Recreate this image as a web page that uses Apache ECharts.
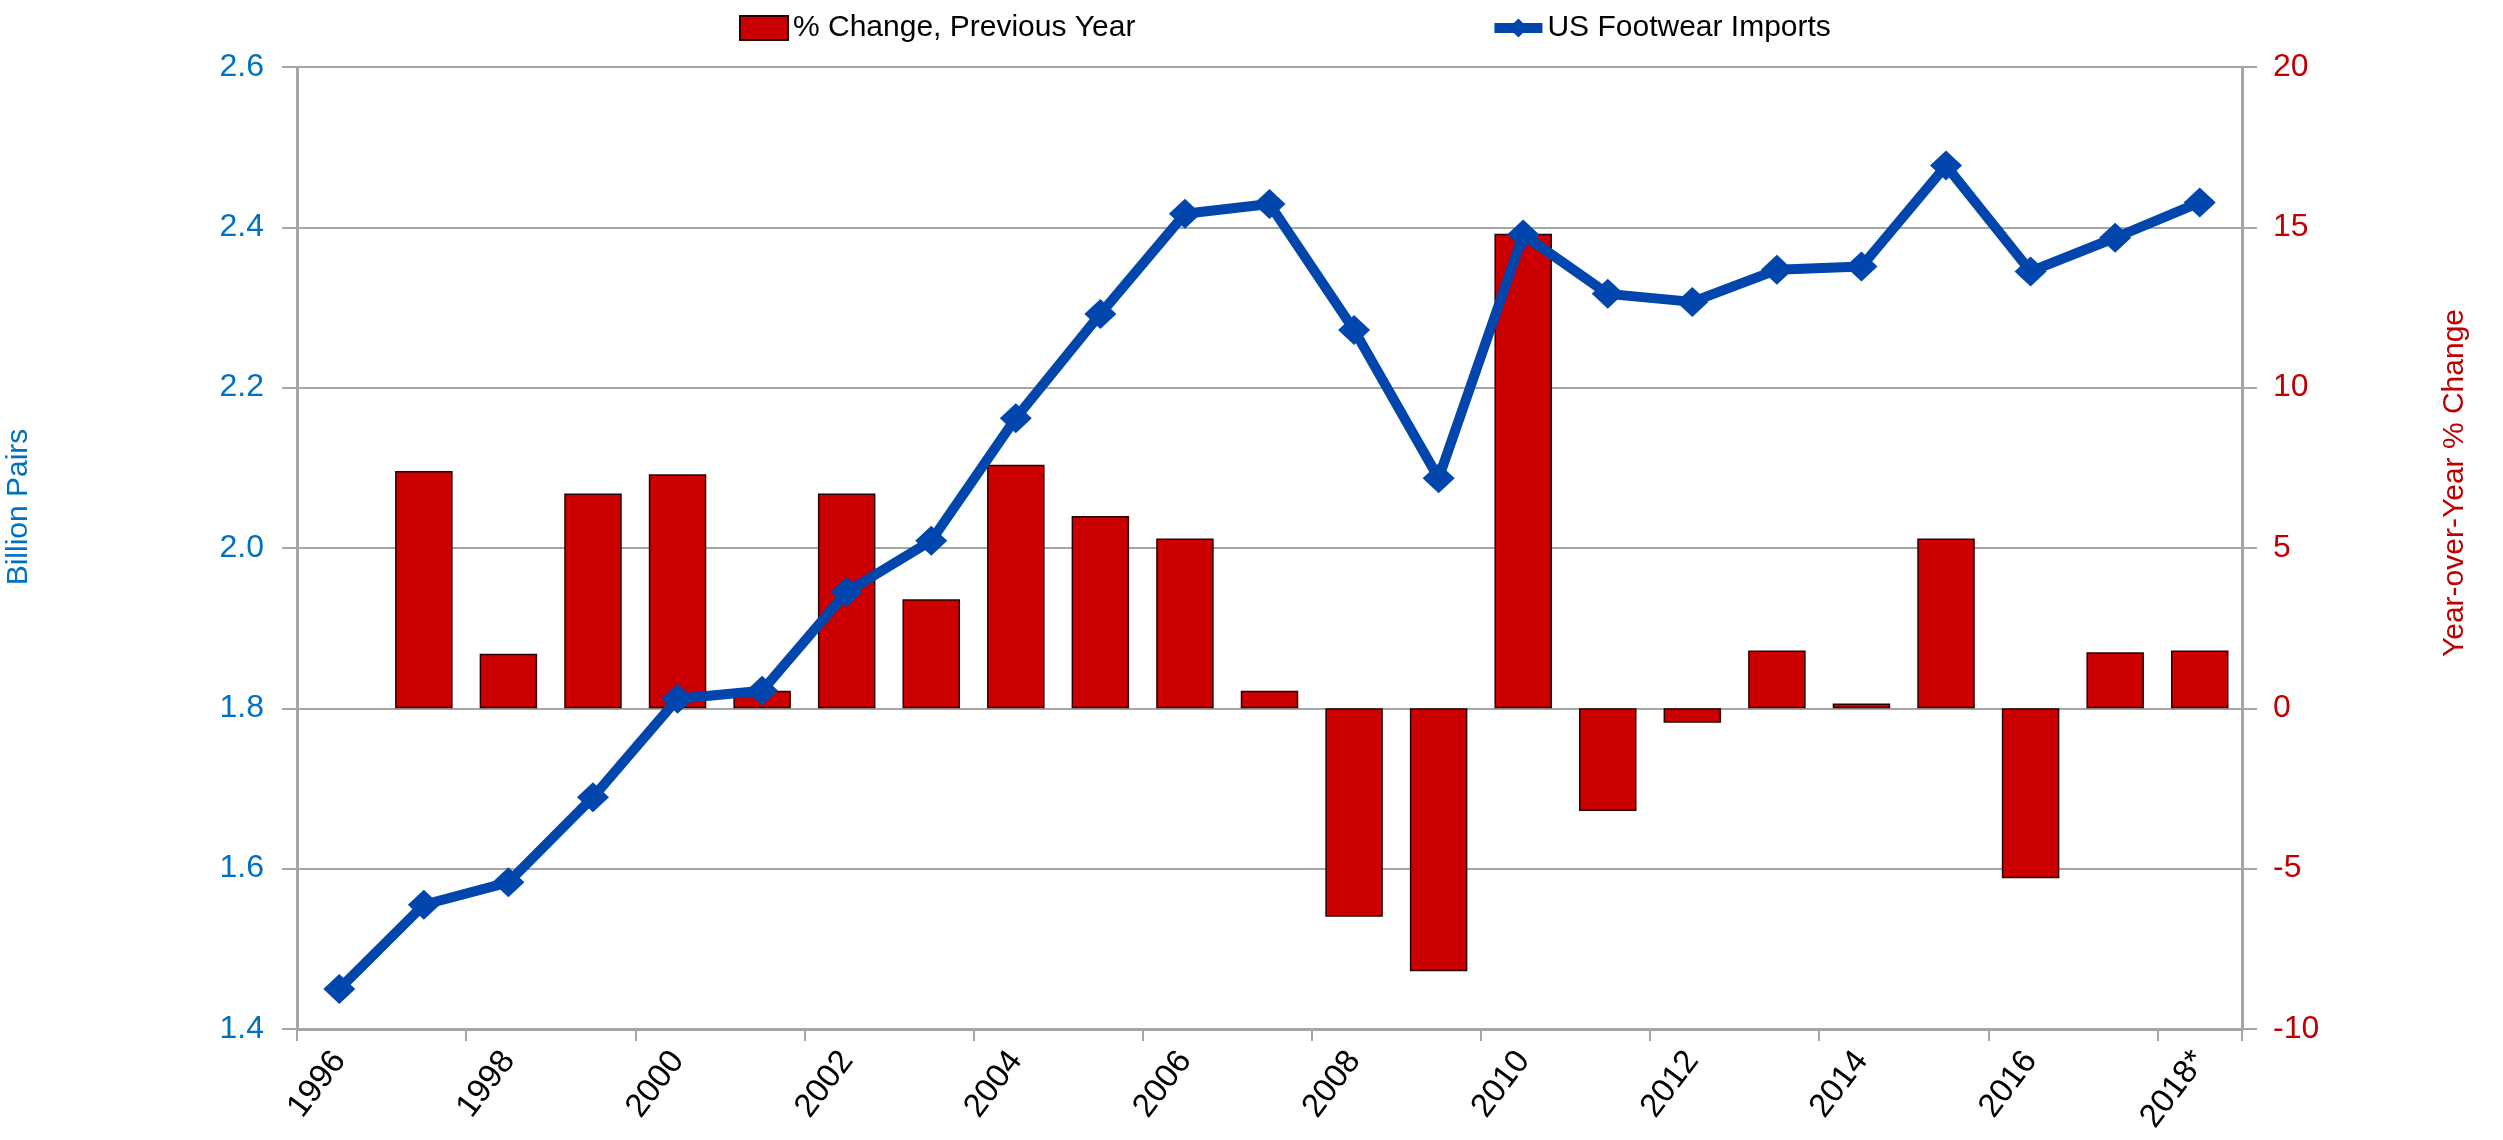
<!DOCTYPE html>
<html>
<head>
<meta charset="utf-8">
<script src="https://cdn.jsdelivr.net/npm/echarts@6/dist/echarts.min.js"></script>
<style>
html, body { margin: 0; padding: 0; background: #ffffff; }
#canvasDiv { width: 2503px; height: 1140px; }
</style>
</head>
<body>
<div id="canvasDiv"></div>
<script>
var FONT_ = 'Liberation Sans, Arial, sans-serif';

var years = ['1996', '1997', '1998', '1999', '2000', '2001', '2002', '2003', '2004', '2005', '2006', '2007',
	'2008', '2009', '2010', '2011', '2012', '2013', '2014', '2015', '2016', '2017', '2018*'];

// billion pairs
var imports = [1.45, 1.555, 1.583, 1.689, 1.812, 1.822, 1.945, 2.009, 2.162, 2.292, 2.417, 2.429,
	2.272, 2.087, 2.391, 2.317, 2.307, 2.347, 2.351, 2.477, 2.345, 2.387, 2.431];

// % change vs previous year (no value for 1996)
var pctChange = [null, 7.4, 1.7, 6.7, 7.3, 0.55, 6.7, 3.4, 7.6, 6.0, 5.3, 0.55,
	-6.5, -8.2, 14.8, -3.2, -0.45, 1.8, 0.15, 5.3, -5.3, 1.75, 1.8];

var leftTicks = { min: 1.4, max: 2.6, interval: 0.2 };
var rightTicks = { min: -10, max: 20, interval: 5 };

var GRID_COLOR = '#a6a6a6';
var LINE_COLOR = '#0046ad';

var option = {
	backgroundColor: '#ffffff',
	animation: false,
	textStyle: { fontFamily: FONT_ },
	legend: {
		top: 8,
		left: 734,
		itemGap: 354,
		itemWidth: 48,
		itemHeight: 24,
		textStyle: { fontSize: 30, color: '#000000', fontFamily: FONT_ },
		data: [
			{ name: '% Change, Previous Year', icon: 'rect' },
			{ name: 'US Footwear Imports', lineStyle: { width: 10 } }
		]
	},
	grid: {
		left: 297,
		right: 261,
		top: 67,
		bottom: 111,
		containLabel: false,
		outerBoundsMode: 'none'
	},
	xAxis: [{
		type: 'category',
		data: years,
		boundaryGap: true,
		axisLine: { onZero: false, lineStyle: { color: GRID_COLOR, width: 3 } },
		axisTick: { show: true, interval: 1, length: 12, lineStyle: { color: GRID_COLOR, width: 2 } },
		axisLabel: {
			interval: 1,
			rotate: 53,
			margin: 26,
			fontSize: 33,
			color: '#000000',
			fontFamily: FONT_
		},
		splitLine: { show: false }
	}],
	yAxis: [{
		type: 'value',
		position: 'left',
		min: leftTicks.min,
		max: leftTicks.max,
		interval: leftTicks.interval,
		name: 'Billion Pairs',
		nameLocation: 'middle',
		nameRotate: 90,
		nameGap: 263,
		nameTextStyle: { fontSize: 30, color: '#0070c0', fontFamily: FONT_, padding: [0, 0, 0, 82] },
		axisLine: { show: true, lineStyle: { color: GRID_COLOR, width: 3 } },
		axisTick: { show: true, length: 15, lineStyle: { color: GRID_COLOR, width: 2 } },
		axisLabel: {
			margin: 33,
			fontSize: 32,
			color: '#0070c0',
			fontFamily: FONT_,
			formatter: function (v) { return v.toFixed(1); }
		},
		splitLine: { show: true, lineStyle: { color: GRID_COLOR, width: 2 } }
	}, {
		type: 'value',
		position: 'right',
		min: rightTicks.min,
		max: rightTicks.max,
		interval: rightTicks.interval,
		name: 'Year-over-Year % Change',
		nameLocation: 'middle',
		nameRotate: 90,
		nameGap: 198,
		nameTextStyle: { fontSize: 30, color: '#c00000', fontFamily: FONT_, padding: [0, 0, 0, 130] },
		axisLine: { show: true, lineStyle: { color: GRID_COLOR, width: 3 } },
		axisTick: { show: true, length: 15, lineStyle: { color: GRID_COLOR, width: 2 } },
		axisLabel: {
			margin: 31,
			fontSize: 32,
			color: '#c00000',
			fontFamily: FONT_
		},
		splitLine: { show: false }
	}],
	series: [{
		name: '% Change, Previous Year',
		type: 'bar',
		yAxisIndex: 1,
		barWidth: '68%',
		data: pctChange,
		itemStyle: { color: '#cc0000', borderColor: '#2a0000', borderWidth: 1.5 },
		z: 2
	}, {
		name: 'US Footwear Imports',
		type: 'line',
		yAxisIndex: 0,
		data: imports,
		symbol: 'diamond',
		symbolSize: [32, 30],
		lineStyle: { color: LINE_COLOR, width: 10 },
		itemStyle: { color: LINE_COLOR },
		z: 3
	}]
};

var reportChart = echarts.init(document.getElementById('canvasDiv'));
reportChart.setOption(option);
</script>
</body>
</html>
